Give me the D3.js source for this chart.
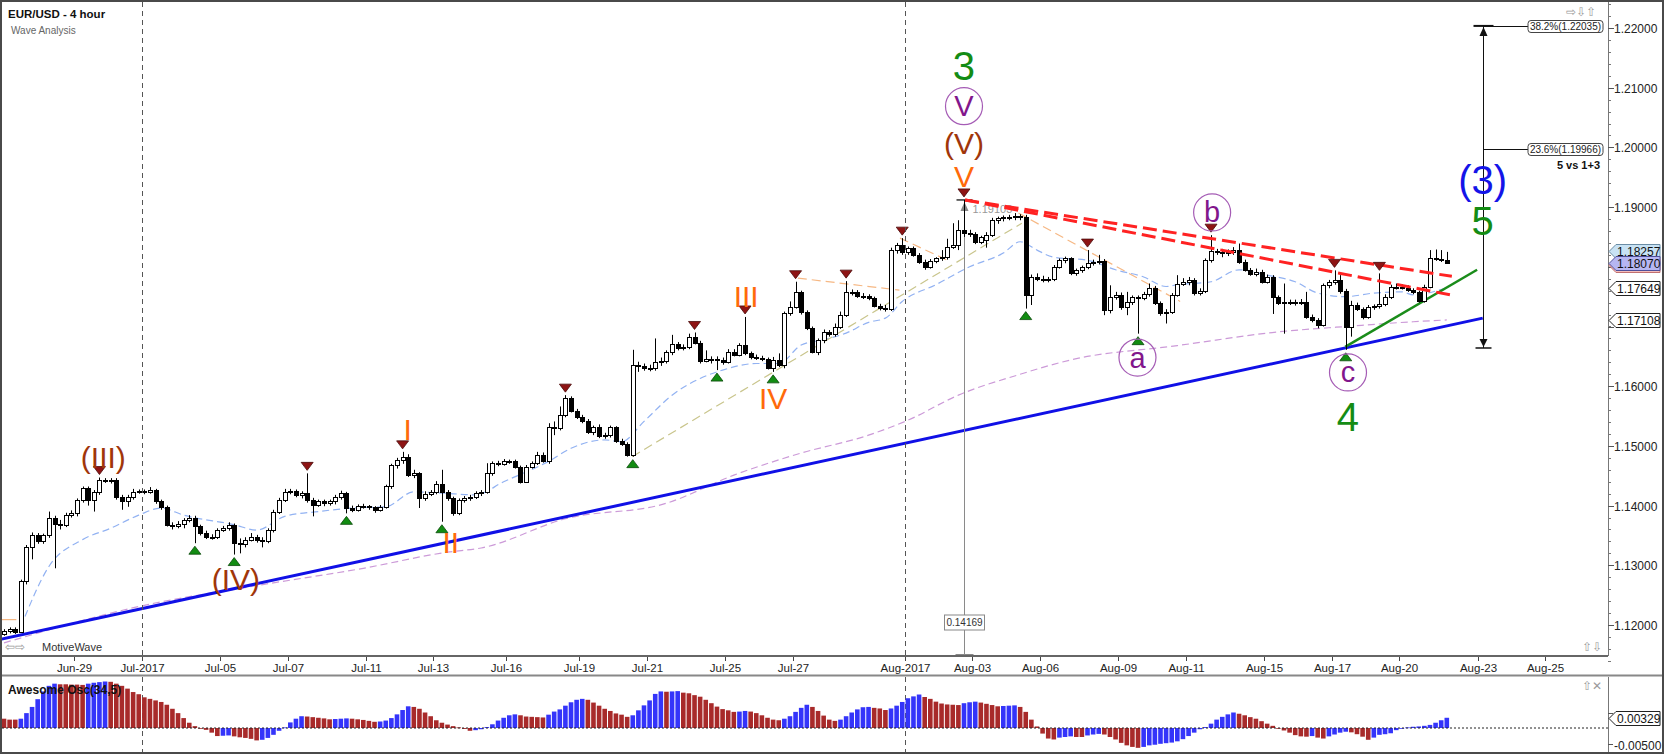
<!DOCTYPE html>
<html>
<head>
<meta charset="utf-8">
<script src="https://cdn.jsdelivr.net/npm/d3@7"></script>
<style>
  body { margin: 0; background: #fff; }
  text { font-family: "Liberation Sans", Arial, sans-serif; }
</style>
</head>
<body>
<div id="chart"></div>
<script>
// EUR/USD 4h candles (bar 0 = first bar on the left)
const opens = [
  1.1185,1.1190,1.1193,1.1189,1.1273,1.1330,1.1350,1.1340,1.1350,1.1379,
  1.1370,1.1368,1.1385,1.1388,1.1410,1.1429,1.1410,1.1423,1.1443,1.1442,
  1.1443,1.1415,1.1407,1.1415,1.1423,1.1424,1.1423,1.1426,1.1407,1.1398,
  1.1368,1.1366,1.1369,1.1376,1.1379,1.1365,1.1354,1.1348,1.1347,1.1359,
  1.1362,1.1368,1.1337,1.1336,1.1343,1.1348,1.1343,1.1340,1.1359,1.1390,
  1.1410,1.1423,1.1424,1.1418,1.1421,1.1410,1.1401,1.1407,1.1404,1.1407,
  1.1415,1.1421,1.1396,1.1393,1.1399,1.1399,1.1397,1.1393,1.1398,1.1432,
  1.1468,1.1476,1.1482,1.1452,1.1454,1.1412,1.1420,1.1423,1.1437,1.1423,
  1.1412,1.1387,1.1410,1.1412,1.1415,1.1421,1.1423,1.1454,1.1471,1.1470,
  1.1474,1.1474,1.1465,1.1440,1.1465,1.1471,1.1485,1.1474,1.1531,1.1530,
  1.1552,1.1580,1.1559,1.1549,1.1542,1.1523,1.1531,1.1516,1.1518,1.1531,
  1.1508,1.1503,1.1485,1.1636,1.1634,1.1631,1.1630,1.1640,1.1642,1.1657,
  1.1670,1.1664,1.1666,1.1683,1.1673,1.1642,1.1646,1.1645,1.1644,1.1641,
  1.1658,1.1653,1.1669,1.1655,1.1649,1.1648,1.1645,1.1631,1.1644,1.1635,
  1.1722,1.1733,1.1757,1.1724,1.1697,1.1658,1.1677,1.1691,1.1687,1.1700,
  1.1720,1.1757,1.1758,1.1751,1.1751,1.1747,1.1735,1.1731,1.1729,1.1828,
  1.1836,1.1825,1.1831,1.1820,1.1808,1.1800,1.1809,1.1814,1.1816,1.1834,
  1.1837,1.1862,1.1856,1.1855,1.1842,1.1845,1.1853,1.1878,1.1881,1.1883,
  1.1884,1.1885,1.1884,1.1753,1.1783,1.1780,1.1778,1.1779,1.1800,1.1811,
  1.1814,1.1789,1.1794,1.1800,1.1806,1.1808,1.1810,1.1727,1.1750,1.1753,
  1.1733,1.1741,1.1749,1.1748,1.1755,1.1764,1.1739,1.1722,1.1725,1.1753,
  1.1772,1.1775,1.1778,1.1756,1.1759,1.1811,1.1827,1.1825,1.1823,1.1825,
  1.1828,1.1808,1.1795,1.1788,1.1792,1.1775,1.1783,1.1749,1.1740,1.1741,
  1.1740,1.1741,1.1741,1.1716,1.1711,1.1703,1.1769,1.1775,1.1778,1.1760,
  1.1700,1.1736,1.1729,1.1716,1.1733,1.1734,1.1738,1.1750,1.1766,1.1767,
  1.1765,1.1761,1.1757,1.1742,1.1767,1.1814,1.1813,1.1812
];
const highs = [
  1.1193,1.1196,1.1196,1.1276,1.1334,1.1355,1.1354,1.1353,1.1390,1.1383,
  1.1376,1.1388,1.1392,1.1412,1.1432,1.1432,1.1426,1.1447,1.1446,1.1446,
  1.1446,1.1418,1.1418,1.1428,1.1427,1.1427,1.1431,1.1428,1.1410,1.1400,
  1.1372,1.1374,1.1379,1.1384,1.1383,1.1368,1.1358,1.1352,1.1362,1.1366,
  1.1372,1.1370,1.1345,1.1347,1.1354,1.1351,1.1347,1.1362,1.1393,1.1413,
  1.1428,1.1428,1.1427,1.1424,1.1454,1.1413,1.1410,1.1410,1.1410,1.1418,
  1.1425,1.1423,1.1400,1.1402,1.1403,1.1401,1.1399,1.1401,1.1435,1.1470,
  1.1480,1.1490,1.1486,1.1460,1.1456,1.1424,1.1426,1.1441,1.1460,1.1426,
  1.1415,1.1412,1.1416,1.1418,1.1424,1.1426,1.1471,1.1474,1.1475,1.1478,
  1.1477,1.1477,1.1467,1.1468,1.1474,1.1490,1.1489,1.1538,1.1541,1.1566,
  1.1585,1.1583,1.1562,1.1552,1.1545,1.1534,1.1536,1.1522,1.1534,1.1533,
  1.1512,1.1506,1.1661,1.1641,1.1638,1.1636,1.1680,1.1648,1.1660,1.1686,
  1.1674,1.1670,1.1688,1.1690,1.1676,1.1660,1.1650,1.1650,1.1648,1.1662,
  1.1662,1.1672,1.1716,1.1658,1.1653,1.1651,1.1648,1.1649,1.1655,1.1725,
  1.1742,1.1775,1.1760,1.1727,1.1700,1.1680,1.1695,1.1694,1.1705,1.1725,
  1.1776,1.1762,1.1761,1.1756,1.1754,1.1750,1.1738,1.1736,1.1832,1.1840,
  1.1848,1.1834,1.1834,1.1823,1.1812,1.1813,1.1816,1.1828,1.1847,1.1873,
  1.1878,1.1912,1.1862,1.1858,1.1852,1.1858,1.1882,1.1884,1.1886,1.1887,
  1.1890,1.1888,1.1887,1.1787,1.1789,1.1785,1.1783,1.1803,1.1814,1.1817,
  1.1816,1.1797,1.1802,1.1828,1.1812,1.1820,1.1813,1.1769,1.1758,1.1757,
  1.1758,1.1752,1.1752,1.1758,1.1772,1.1768,1.1742,1.1729,1.1756,1.1786,
  1.1781,1.1783,1.1781,1.1764,1.1814,1.1853,1.1830,1.1830,1.1829,1.1833,
  1.1839,1.1812,1.1798,1.1797,1.1795,1.1787,1.1786,1.1752,1.1772,1.1745,
  1.1745,1.1746,1.1758,1.1720,1.1714,1.1772,1.1778,1.1794,1.1786,1.1763,
  1.1743,1.1740,1.1732,1.1736,1.1737,1.1789,1.1754,1.1770,1.1772,1.1771,
  1.1769,1.1764,1.1760,1.1770,1.1828,1.1829,1.1828,1.1825
];
const lows = [
  1.1182,1.1186,1.1185,1.1187,1.1268,1.1310,1.1336,1.1336,1.1346,1.1295,
  1.1360,1.1364,1.1380,1.1382,1.1405,1.1400,1.1390,1.1418,1.1438,1.1437,
  1.1410,1.1393,1.1398,1.1410,1.1420,1.1419,1.1420,1.1403,1.1393,1.1365,
  1.1360,1.1362,1.1362,1.1372,1.1337,1.1350,1.1344,1.1343,1.1344,1.1356,
  1.1358,1.1318,1.1320,1.1330,1.1340,1.1338,1.1330,1.1337,1.1355,1.1386,
  1.1406,1.1419,1.1414,1.1412,1.1405,1.1382,1.1398,1.1399,1.1400,1.1402,
  1.1410,1.1387,1.1389,1.1390,1.1395,1.1393,1.1388,1.1390,1.1395,1.1428,
  1.1462,1.1470,1.1448,1.1446,1.1396,1.1408,1.1416,1.1419,1.1373,1.1408,
  1.1383,1.1384,1.1405,1.1408,1.1411,1.1416,1.1420,1.1450,1.1466,1.1467,
  1.1470,1.1462,1.1437,1.1438,1.1462,1.1468,1.1472,1.1470,1.1518,1.1526,
  1.1548,1.1556,1.1545,1.1538,1.1520,1.1518,1.1513,1.1512,1.1514,1.1505,
  1.1500,1.1482,1.1482,1.1624,1.1626,1.1625,1.1626,1.1634,1.1638,1.1652,
  1.1660,1.1660,1.1662,1.1670,1.1638,1.1640,1.1638,1.1627,1.1636,1.1638,
  1.1650,1.1650,1.1652,1.1645,1.1644,1.1642,1.1628,1.1624,1.1632,1.1630,
  1.1718,1.1730,1.1720,1.1694,1.1655,1.1652,1.1672,1.1683,1.1683,1.1696,
  1.1716,1.1752,1.1748,1.1746,1.1744,1.1732,1.1727,1.1725,1.1726,1.1822,
  1.1820,1.1820,1.1817,1.1805,1.1795,1.1797,1.1806,1.1810,1.1812,1.1830,
  1.1828,1.1850,1.1850,1.1838,1.1838,1.1832,1.1850,1.1872,1.1876,1.1878,
  1.1878,1.1878,1.1730,1.1736,1.1776,1.1774,1.1774,1.1776,1.1797,1.1806,
  1.1786,1.1785,1.1790,1.1796,1.1802,1.1804,1.1719,1.1722,1.1745,1.1728,
  1.1719,1.1736,1.1688,1.1744,1.1750,1.1736,1.1718,1.1705,1.1721,1.1750,
  1.1768,1.1769,1.1752,1.1752,1.1756,1.1807,1.1820,1.1816,1.1818,1.1820,
  1.1805,1.1792,1.1785,1.1784,1.1772,1.1772,1.1721,1.1736,1.1688,1.1736,
  1.1735,1.1736,1.1713,1.1707,1.1697,1.1700,1.1764,1.1770,1.1755,1.1661,
  1.1683,1.1726,1.1712,1.1713,1.1728,1.1730,1.1734,1.1746,1.1762,1.1762,
  1.1758,1.1754,1.1740,1.1740,1.1764,1.1810,1.1808,1.1805
];
const closes = [
  1.1190,1.1193,1.1189,1.1273,1.1330,1.1350,1.1340,1.1350,1.1379,1.1370,
  1.1368,1.1385,1.1388,1.1410,1.1429,1.1410,1.1423,1.1443,1.1442,1.1443,
  1.1415,1.1407,1.1415,1.1423,1.1424,1.1423,1.1426,1.1407,1.1398,1.1368,
  1.1366,1.1369,1.1376,1.1379,1.1365,1.1354,1.1348,1.1347,1.1359,1.1362,
  1.1368,1.1337,1.1336,1.1343,1.1348,1.1343,1.1340,1.1359,1.1390,1.1410,
  1.1423,1.1424,1.1418,1.1421,1.1410,1.1401,1.1407,1.1404,1.1407,1.1415,
  1.1421,1.1396,1.1393,1.1399,1.1399,1.1397,1.1393,1.1398,1.1432,1.1468,
  1.1476,1.1482,1.1452,1.1454,1.1412,1.1420,1.1423,1.1437,1.1423,1.1412,
  1.1387,1.1410,1.1412,1.1415,1.1421,1.1423,1.1454,1.1471,1.1470,1.1474,
  1.1474,1.1465,1.1440,1.1465,1.1471,1.1485,1.1474,1.1531,1.1530,1.1552,
  1.1580,1.1559,1.1549,1.1542,1.1523,1.1531,1.1516,1.1518,1.1531,1.1508,
  1.1503,1.1485,1.1636,1.1634,1.1631,1.1630,1.1640,1.1642,1.1657,1.1670,
  1.1664,1.1666,1.1683,1.1673,1.1642,1.1646,1.1645,1.1644,1.1641,1.1658,
  1.1653,1.1669,1.1655,1.1649,1.1648,1.1645,1.1631,1.1644,1.1635,1.1722,
  1.1733,1.1757,1.1724,1.1697,1.1658,1.1677,1.1691,1.1687,1.1700,1.1720,
  1.1757,1.1758,1.1751,1.1751,1.1747,1.1735,1.1731,1.1729,1.1828,1.1836,
  1.1825,1.1831,1.1820,1.1808,1.1800,1.1809,1.1814,1.1816,1.1834,1.1837,
  1.1862,1.1856,1.1855,1.1842,1.1850,1.1853,1.1878,1.1881,1.1883,1.1884,
  1.1885,1.1884,1.1753,1.1783,1.1780,1.1778,1.1779,1.1800,1.1811,1.1814,
  1.1789,1.1794,1.1800,1.1806,1.1808,1.1810,1.1727,1.1750,1.1753,1.1733,
  1.1741,1.1749,1.1748,1.1755,1.1764,1.1739,1.1722,1.1725,1.1753,1.1772,
  1.1775,1.1778,1.1756,1.1759,1.1811,1.1827,1.1825,1.1823,1.1825,1.1828,
  1.1808,1.1795,1.1788,1.1792,1.1775,1.1783,1.1749,1.1740,1.1741,1.1740,
  1.1741,1.1741,1.1716,1.1711,1.1703,1.1769,1.1775,1.1778,1.1760,1.1700,
  1.1736,1.1729,1.1716,1.1733,1.1734,1.1738,1.1750,1.1766,1.1767,1.1765,
  1.1761,1.1757,1.1742,1.1767,1.1814,1.1813,1.1812,1.1807
];

// Awesome Oscillator (34,5), in units of 0.0001
const aoPips = [
  30,27,27,30,48,68,93,118,136,143,
  141,141,140,140,139,143,146,148,150,149,
  143,136,127,116,109,99,94,89,84,75,
  62,48,32,17,6,-1,-6,-15,-26,-25,
  -24,-27,-30,-32,-35,-40,-38,-32,-22,-9,
  2,18,30,38,37,35,33,31,28,29,
  30,31,30,28,26,23,20,21,24,32,
  44,58,70,68,62,50,38,25,17,11,
  6,2,-3,-9,-7,-4,3,12,24,33,
  41,44,41,37,36,35,34,43,53,60,
  72,83,91,94,91,82,72,62,55,47,
  43,36,41,57,73,89,110,118,117,118,
  119,114,112,106,101,91,80,69,61,57,
  52,53,55,53,48,41,33,27,25,30,
  38,52,65,75,68,55,40,27,23,27,
  38,50,60,67,68,65,63,58,63,72,
  84,96,102,108,100,94,85,79,76,75,
  74,80,83,85,82,78,74,70,71,72,
  73,68,52,27,5,-18,-34,-37,-31,-29,
  -27,-29,-29,-24,-21,-19,-21,-29,-37,-48,
  -56,-61,-64,-61,-56,-54,-51,-49,-47,-43,
  -36,-26,-15,-4,3,14,27,36,44,50,
  46,41,35,30,22,14,7,0,-8,-15,
  -23,-27,-28,-26,-31,-34,-27,-21,-15,-12,
  -14,-20,-28,-38,-31,-22,-20,-17,-7,0,
  2,4,5,7,10,17,25,33
];

// date axis: label and the bar that opens that day
const dateLabels = ['Jun-29','Jul-2017','Jul-05','Jul-07','Jul-11','Jul-13','Jul-16','Jul-19','Jul-21','Jul-25',
  'Jul-27','Aug-2017','Aug-03','Aug-06','Aug-09','Aug-11','Aug-15','Aug-17','Aug-20','Aug-23','Aug-25'];
const dateBars = [13,25,39,51,65,77,90,103,115,129,141,161,173,185,199,211,225,237,249,263,275];
const monthBars = [25, 161];
const priceTicks = [1.12,1.13,1.14,1.15,1.16,1.17,1.18,1.19,1.20,1.21,1.22];

// moving averages [bar, price]
const fastMa = [[3,1.1197],[8,1.1298],[14,1.1343],[19,1.1362],[24,1.1384],[28,1.1396],[32,1.1384],[41,1.1368],
  [45,1.1359],[50,1.1382],[56,1.1390],[62,1.1396],[68,1.1398],[73,1.1423],[78,1.1421],[84,1.1418],[89,1.1440],
  [97,1.1474],[101,1.1496],[107,1.1510],[110,1.1507],[114,1.1541],[119,1.1585],[124,1.1613],[128,1.1627],
  [134,1.1638],[138,1.1638],[142,1.1669],[146,1.1678],[150,1.1689],[154,1.1707],[157,1.1714],[160,1.1742],
  [166,1.1770],[172,1.1800],[178,1.1823],[181,1.1842],[184,1.1828],[187,1.1816],[193,1.1811],[198,1.1795],
  [203,1.1783],[207,1.1767],[209,1.1770],[215,1.1775],[220,1.1795],[225,1.1786],[230,1.1775],[234,1.1756],
  [239,1.1750],[244,1.1756],[249,1.1758],[251,1.1753],[257,1.1765]];
const slowMa = [[0,1.1170],[25,1.1233],[45,1.1266],[64,1.1295],[79,1.1322],[85,1.1329],[100,1.1378],[118,1.1404],
  [130,1.1451],[142,1.1488],[154,1.1518],[161,1.1543],[170,1.1585],[181,1.1620],[190,1.1644],[209,1.1668],
  [227,1.1691],[239,1.1700],[251,1.1708],[257,1.1711]];

// drawn studies [bar, price]
const blueTrend = [[-0.7,1.1176],[263.4,1.1714]];
const greenTrend = [[238.9,1.1666],[262.4,1.1795]];
const redUpper = [[171.2,1.1912],[257.9,1.1784]];
const redLower = [[171.2,1.1912],[257.6,1.1753]];
const oliveWave = [[111.9,1.1482],[181.3,1.1873]];
const orangeWaves = [
  [[141.4,1.1781],[159.5,1.1761]],
  [[159.6,1.1848],[168.5,1.1809]],
  [[180.7,1.1890],[209.5,1.1742]],
  [[-0.7,1.1209],[2.2,1.1209]]
];

const highMarks = [17,54,71,100,123,132,141,150,160,171,193,215,237,245];
const lowMarks = [34,41,61,78,112,127,137,182,202,239];

const waveLabels = [
  {text:'(III)', bar:17.7,  price:1.1481, kind:'brown'},
  {text:'(IV)',  bar:41.3,  price:1.1277, kind:'brown'},
  {text:'I',     bar:71.9,  price:1.1527, kind:'orange'},
  {text:'II',    bar:79.6,  price:1.1338, kind:'orange'},
  {text:'III',   bar:132.2, price:1.1751, kind:'orange'},
  {text:'IV',    bar:137,   price:1.1579, kind:'orange'},
  {text:'V',     bar:171,   price:1.1952, kind:'orange'},
  {text:'(V)',   bar:171,   price:1.2006, kind:'brown'},
  {text:'V',     bar:171,   price:1.2069, kind:'circle'},
  {text:'3',     bar:171,   price:1.2136, kind:'green'},
  {text:'a',     bar:201.9, price:1.1648, kind:'circle'},
  {text:'b',     bar:215.2, price:1.1891, kind:'circle'},
  {text:'c',     bar:239.4, price:1.1623, kind:'circle'},
  {text:'4',     bar:239.4, price:1.1548, kind:'green'},
  {text:'(3)',   bar:263.4, price:1.1945, kind:'blue'},
  {text:'5',     bar:263.4, price:1.1877, kind:'green'}
];

const fibBar = 263.4, fibLow = 1.1664;
const fibPrices = [1.22035, 1.19966];
const fibNames = ['38.2%', '23.6%'];
const measureBar = 171, measureTop = 1.1912, measureText = '0.14169';
const tagValues = [1.18030, 1.18257, 1.18070, 1.17649, 1.17108];
const aoLast = 0.00329;

// ---------------------------------------------------------------
const W = 1668, H = 754;
const plotR = 1608, plotB = 656, oscT = 677, oscB = 752;

const svg = d3.select('#chart').append('svg').attr('width', W).attr('height', H);
svg.append('rect').attr('width', W).attr('height', H).attr('fill', '#fff');

const x = d3.scaleLinear().domain([0, closes.length - 1]).range([4, 1446.8]);
const y = d3.scaleLinear().domain([1.12, 1.22]).range([625, 28]);
const yAo = d3.scaleLinear().domain([-50, 50]).range([743.5, 712.5]);

const defs = svg.append('defs');
defs.append('clipPath').attr('id', 'clipMain').append('rect')
  .attr('x', 2).attr('y', 2).attr('width', plotR - 2).attr('height', plotB - 2);
defs.append('clipPath').attr('id', 'clipOsc').append('rect')
  .attr('x', 2).attr('y', oscT).attr('width', plotR - 2).attr('height', oscB - oscT);

const main = svg.append('g').attr('clip-path', 'url(#clipMain)');
const line = d3.line().x(d => x(d[0])).y(d => y(d[1]));

// month separators
monthBars.forEach(b => {
  const mx = Math.round(x(b - 0.5)) + 0.5;
  [[2, plotB], [oscT, oscB]].forEach(([a, c]) => {
    svg.append('line').attr('x1', mx).attr('x2', mx).attr('y1', a).attr('y2', c)
      .attr('stroke', '#555').attr('stroke-dasharray', '5,4');
  });
});

// moving averages
main.append('path').datum(slowMa).attr('d', line.curve(d3.curveMonotoneX))
  .attr('fill', 'none').attr('stroke', '#cc9ad8').attr('stroke-width', 1.2).attr('stroke-dasharray', '7,4');
main.append('path').datum(fastMa).attr('d', line.curve(d3.curveMonotoneX))
  .attr('fill', 'none').attr('stroke', '#92b2f2').attr('stroke-width', 1.2).attr('stroke-dasharray', '7,4');
line.curve(d3.curveLinear);

// wave connection lines
main.append('path').datum(oliveWave).attr('d', line)
  .attr('fill', 'none').attr('stroke', '#c9c58c').attr('stroke-width', 1.2).attr('stroke-dasharray', '9,5');
orangeWaves.forEach((seg, k) => {
  main.append('path').datum(seg).attr('d', line)
    .attr('fill', 'none').attr('stroke', '#f6b884').attr('stroke-width', 1.2)
    .attr('stroke-dasharray', k === 3 ? null : '9,5');
});

// trend lines
main.append('path').datum(blueTrend).attr('d', line)
  .attr('stroke', '#1010e6').attr('stroke-width', 3);
main.append('path').datum(greenTrend).attr('d', line)
  .attr('stroke', '#1a8c1a').attr('stroke-width', 2.5);

// measure line from the wave V top
const mx = Math.round(x(measureBar)) + 0.5;
main.append('line').attr('x1', mx).attr('x2', mx).attr('y1', y(measureTop)).attr('y2', plotB)
  .attr('stroke', '#8a8a8a');
main.append('line').attr('x1', mx - 8).attr('x2', mx + 8).attr('y1', y(measureTop)).attr('y2', y(measureTop))
  .attr('stroke', '#333').attr('stroke-width', 1.5);
main.append('path').attr('d', `M${mx},${y(measureTop) + 2} l-4,9 h8 z`).attr('fill', '#888');
main.append('text').attr('x', mx + 8).attr('y', y(measureTop) + 13).attr('font-size', 11)
  .attr('fill', '#999').text('1.19103');
main.append('line').attr('x1', mx - 9).attr('x2', mx + 9).attr('y1', plotB - 1.5).attr('y2', plotB - 1.5)
  .attr('stroke', '#888');
main.append('rect').attr('x', mx - 20).attr('y', 615).attr('width', 40).attr('height', 15)
  .attr('fill', '#fff').attr('stroke', '#888');
main.append('text').attr('x', mx).attr('y', 626).attr('text-anchor', 'middle').attr('font-size', 10)
  .attr('fill', '#333').text(measureText);

// candles
const candles = main.append('g');
closes.forEach((c, i) => {
  const o = opens[i];
  const cx = Math.round(x(i)) + 0.5;
  candles.append('line').attr('x1', cx).attr('x2', cx).attr('y1', y(highs[i])).attr('y2', y(lows[i]))
    .attr('stroke', '#000');
  const top = Math.round(y(Math.max(o, c))), bot = Math.round(y(Math.min(o, c)));
  candles.append('rect').attr('x', cx - 2).attr('y', top + 0.5)
    .attr('width', 4).attr('height', Math.max(1, bot - top))
    .attr('fill', c >= o ? '#fff' : '#000').attr('stroke', '#000');
});

// red resistance lines
[redUpper, redLower].forEach(seg => {
  main.append('path').datum(seg).attr('d', line)
    .attr('stroke', '#ff2222').attr('stroke-width', 3).attr('stroke-dasharray', '14,6');
});

// swing markers
highMarks.forEach(i => {
  const cx = x(i), ty = y(highs[i]) - 3;
  main.append('path').attr('d', `M${cx},${ty} l-6,-8 h12 z`)
    .attr('fill', '#8e1414').attr('stroke', '#4a0a0a').attr('stroke-width', 0.8);
});
lowMarks.forEach(i => {
  const cx = x(i), ty = y(lows[i]) + 3;
  main.append('path').attr('d', `M${cx},${ty} l-6,8 h12 z`)
    .attr('fill', '#128c12').attr('stroke', '#0a4a0a').attr('stroke-width', 0.8);
});

// fib extension tool
const fx = Math.round(x(fibBar)) + 0.5;
main.append('line').attr('x1', fx).attr('x2', fx).attr('y1', y(fibPrices[0])).attr('y2', y(fibLow))
  .attr('stroke', '#111');
main.append('line').attr('x1', fx - 10).attr('x2', fx + 10).attr('y1', y(fibPrices[0])).attr('y2', y(fibPrices[0]))
  .attr('stroke', '#111').attr('stroke-width', 2);
main.append('path').attr('d', `M${fx},${y(fibPrices[0]) + 1} l-4,9 h8 z`).attr('fill', '#111');
main.append('line').attr('x1', fx - 8).attr('x2', fx + 8).attr('y1', y(fibLow)).attr('y2', y(fibLow))
  .attr('stroke', '#111').attr('stroke-width', 1.5);
main.append('path').attr('d', `M${fx},${y(fibLow) - 1} l-4,-8 h8 z`).attr('fill', '#111');
fibPrices.forEach((p, k) => {
  const fy = Math.round(y(p)) + 0.5;
  main.append('line').attr('x1', fx).attr('x2', 1528).attr('y1', fy).attr('y2', fy).attr('stroke', '#111');
  main.append('rect').attr('x', 1528).attr('y', fy - 6).attr('width', 75).attr('height', 12).attr('rx', 3)
    .attr('fill', '#fff').attr('stroke', '#444');
  main.append('text').attr('x', 1565.5).attr('y', fy + 3.5).attr('text-anchor', 'middle')
    .attr('font-size', 10).attr('fill', '#222').text(`${fibNames[k]}(${d3.format('.5f')(p)})`);
});
main.append('text').attr('x', 1600).attr('y', y(fibPrices[1]) + 20).attr('text-anchor', 'end')
  .attr('font-size', 11).attr('font-weight', 'bold').attr('fill', '#111').text('5 vs 1+3');

// wave labels
const labelStyle = {
  brown:  {size: 30, fill: '#a0360a'},
  orange: {size: 30, fill: '#ff6a0a'},
  green:  {size: 40, fill: '#148c14'},
  blue:   {size: 40, fill: '#1414e8'},
  circle: {size: 29, fill: '#82168c'}
};
waveLabels.forEach(l => {
  const st = labelStyle[l.kind];
  const lx = x(l.bar), ly = y(l.price);
  if (l.kind === 'circle') {
    main.append('circle').attr('cx', lx).attr('cy', ly).attr('r', 18.5)
      .attr('fill', 'none').attr('stroke', '#a55cb5').attr('stroke-width', 1.2);
  }
  main.append('text').attr('x', lx).attr('y', ly).attr('text-anchor', 'middle')
    .attr('dominant-baseline', 'central').attr('font-size', st.size).attr('fill', st.fill).text(l.text);
});

// ---------------- axes and frame ----------------
const axis = svg.append('g');
axis.append('line').attr('x1', plotR + 0.5).attr('x2', plotR + 0.5).attr('y1', 2).attr('y2', plotB)
  .attr('stroke', '#777');
axis.append('line').attr('x1', plotR + 0.5).attr('x2', plotR + 0.5).attr('y1', oscT).attr('y2', oscB)
  .attr('stroke', '#777');
d3.range(1.114, 1.2245, 0.002).forEach(v => {
  const ty = Math.round(y(v)) + 0.5;
  axis.append('line').attr('x1', plotR).attr('x2', plotR + 3).attr('y1', ty).attr('y2', ty).attr('stroke', '#777');
});
// a tick label that sits under a price tag is hidden by it, as on the original
const tagYs = tagValues.map(v => y(v));
priceTicks.forEach(v => {
  const ty = Math.round(y(v)) + 0.5;
  axis.append('line').attr('x1', plotR).attr('x2', plotR + 6).attr('y1', ty).attr('y2', ty).attr('stroke', '#555');
  if (tagYs.some(t => Math.abs(t - ty) < 12)) return;
  axis.append('text').attr('x', plotR + 6).attr('y', ty + 4.5).attr('font-size', 12).attr('fill', '#222')
    .text(d3.format('.5f')(v));
});

// price tags on the axis
const tagStyle = [
  {fill: '#f4bcbc', stroke: '#c07070'},
  {fill: '#c8e2f4', stroke: '#6a8ca4'},
  {fill: '#b6b6f2', stroke: '#50509a'},
  {fill: '#fff', stroke: '#222'},
  {fill: '#fff', stroke: '#222'}
];
function axisTag(g, ty, txt, st, showText) {
  g.append('path').attr('d', `M${plotR + 1},${ty} L${plotR + 8},${ty - 7} H1660 V${ty + 7} H${plotR + 8} Z`)
    .attr('fill', st.fill).attr('stroke', st.stroke);
  if (showText === false) return;
  g.append('text').attr('x', plotR + 9).attr('y', ty + 4.5).attr('font-size', 12).attr('fill', '#111').text(txt);
}
// the pink tag is almost fully covered by the current-price tag, so only its edge shows
tagValues.forEach((v, k) => axisTag(axis, Math.round(y(v)) + 0.5, d3.format('.5f')(v), tagStyle[k], k !== 0));

// date strip
svg.append('line').attr('x1', 2).attr('x2', plotR).attr('y1', plotB).attr('y2', plotB)
  .attr('stroke', '#666').attr('stroke-width', 2);
svg.append('line').attr('x1', 2).attr('x2', 1664).attr('y1', 675.5).attr('y2', 675.5)
  .attr('stroke', '#888').attr('stroke-width', 2);
dateLabels.forEach((lab, k) => {
  const tx = Math.round(x(dateBars[k] - 0.5)) + 0.5;
  axis.append('line').attr('x1', tx).attr('x2', tx).attr('y1', plotB).attr('y2', plotB + 5).attr('stroke', '#444');
  axis.append('text').attr('x', tx).attr('y', 672).attr('text-anchor', 'middle')
    .attr('font-size', 11.5).attr('fill', '#222').text(lab);
});

// oscillator
const oscG = svg.append('g').attr('clip-path', 'url(#clipOsc)');
aoPips.forEach((v, i) => {
  const up = i > 0 && v > aoPips[i - 1];
  const top = Math.min(yAo(v), yAo(0)), h = Math.abs(yAo(v) - yAo(0));
  oscG.append('rect').attr('x', x(i) - 2.3).attr('y', top).attr('width', 4.6).attr('height', Math.max(0.8, h))
    .attr('fill', up ? '#3434fa' : '#a82a2a');
});
svg.append('line').attr('x1', 2).attr('x2', plotR).attr('y1', yAo(0)).attr('y2', yAo(0))
  .attr('stroke', '#222').attr('stroke-dasharray', '2,2');
const aoTagY = Math.round(yAo(aoLast * 10000)) + 0.5;
[[50, '0.00500'], [-50, '-0.00500']].forEach(([v, t]) => {
  const ty = Math.round(yAo(v)) + 0.5;
  axis.append('line').attr('x1', plotR).attr('x2', plotR + 5).attr('y1', ty).attr('y2', ty).attr('stroke', '#555');
  if (Math.abs(ty - aoTagY) < 12) return;
  axis.append('text').attr('x', plotR + 6).attr('y', ty + 5).attr('font-size', 12).attr('fill', '#222').text(t);
});
axisTag(axis, aoTagY, d3.format('.5f')(aoLast), {fill: '#fff', stroke: '#222'});
svg.append('text').attr('x', 8).attr('y', 694).attr('font-size', 12).attr('font-weight', 'bold')
  .attr('fill', '#111').text('Awesome Osc(34,5)');

// small panel icons and captions
const icon = (tx, ty, t) => svg.append('text').attr('x', tx).attr('y', ty)
  .attr('font-family', '"DejaVu Sans"').attr('font-size', 12).attr('fill', '#9a9a9a').text(t);
icon(1566, 16, '⇨⇩⇧');
icon(1582, 651, '⇧⇩');
icon(1582, 690, '⇧✕');
icon(5, 651, '⇦⇨');
svg.append('text').attr('x', 42).attr('y', 651).attr('font-size', 11).attr('fill', '#333').text('MotiveWave');
svg.append('text').attr('x', 8).attr('y', 18).attr('font-size', 11.5).attr('font-weight', 'bold')
  .attr('fill', '#111').text('EUR/USD - 4 hour');
svg.append('text').attr('x', 11).attr('y', 34).attr('font-size', 10).attr('fill', '#666').text('Wave Analysis');

// outer frame
svg.append('rect').attr('x', 1).attr('y', 1).attr('width', 1662).attr('height', 752)
  .attr('fill', 'none').attr('stroke', '#4a4a4a').attr('stroke-width', 2);
</script>
</body>
</html>
